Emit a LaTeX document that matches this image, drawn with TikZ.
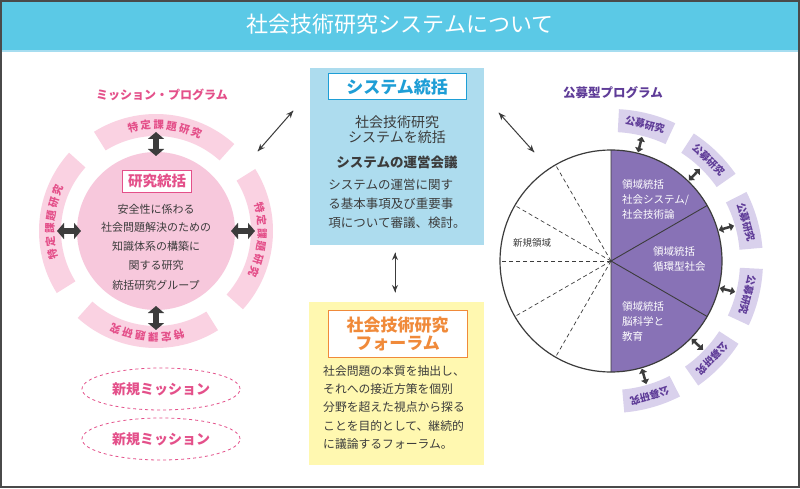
\documentclass[tikz,border=0pt]{standalone}
\usepackage{fontspec}
\setmainfont{Noto Sans CJK JP}
\usepackage[dvipsnames]{xcolor}
\usepackage{tkz-euclide}
\usetikzlibrary{arrows.meta,decorations.markings,shapes.geometric}

\definecolor{titleblue}{HTML}{5BC9E6}
\definecolor{titleline}{HTML}{A6DDF0}
\definecolor{framegray}{HTML}{4A4A4A}
\definecolor{boxblue}{HTML}{ADDCEE}
\definecolor{sysblue}{HTML}{1E9ED6}
\definecolor{boxyellow}{HTML}{FFF8B0}
\definecolor{forumorange}{HTML}{F08A3A}
\definecolor{circpink}{HTML}{F7C8DC}
\definecolor{ringpink}{HTML}{FAD2E2}
\definecolor{pinktext}{HTML}{E4508A}
\definecolor{pieviolet}{HTML}{8872B6}
\definecolor{tablav}{HTML}{D9D1EC}
\definecolor{tabviolet}{HTML}{5F3C98}
\definecolor{inkgray}{HTML}{3C3C3C}

\begin{document}
\begin{tikzpicture}[x=1pt,y=1pt]
\tikzset{
arr/.style={postaction=decorate,
decoration={markings,
mark=at position 0 with {\arrowreversed{#1}},
mark=at position 1 with {\arrow{#1}}
}},
fat/.style={line width=6pt,draw=inkgray,
{Triangle[width=16pt,length=7pt]}-{Triangle[width=16pt,length=7pt]}},
smallfat/.style={line width=2.5pt,draw=inkgray,
{Triangle[width=8pt,length=4.5pt]}-{Triangle[width=8pt,length=4.5pt]}},
ringtext/.style={text=pinktext,inner sep=0pt,font=\fontsize{10.5}{10.5}\selectfont\bfseries},
tabtext/.style={text=tabviolet,inner sep=0pt,font=\fontsize{10}{10}\selectfont\bfseries},
body/.style={text=inkgray,align=left,inner sep=0pt},
mission/.style={ellipse,draw=pinktext,dashed,line width=0.8pt,minimum width=158pt,
minimum height=42pt,text=pinktext,font=\fontsize{14}{14}\selectfont\bfseries},
piesec/.style={text=white,align=left,anchor=west,inner sep=0pt,font=\fontsize{10.5}{15}\selectfont}
}
\useasboundingbox (0,0) rectangle (800,488);
% frame and title
\fill[white] (0,0) rectangle (800,488);
\fill[titleblue] (0,438) rectangle (800,488);
\draw[titleline,line width=2pt] (0,437) -- (800,437);
\draw[framegray,line width=2pt] (1,1) rectangle (799,487);
\node[text=white,font=\fontsize{22}{22}\selectfont] (title) at (400,464) {社会技術研究システムについて};

\tkzDefPoints{156/257/L,611/227/R}
\tkzDefPoints{395/235/Va,395/196/Vb,293/377/La,258/337/Lb,499/375/Ra,534/336/Rb}

% mission program
\foreach \c in {85,175,265,355}{
\fill[ringpink] (L) ++(\c+37:117) arc[start angle=\c+37,end angle=\c-37,radius=117]
  -- ++(\c-37:-22) arc[start angle=\c-37,end angle=\c+37,radius=95] -- cycle;
\foreach \ch [count=\i] in {特,定,課,題,研,究}
  \path (L) ++(\c+24.5-7*\i:106) node[ringtext,rotate=\c-65.5-7*\i] (rt\c\i) {\ch};
}
\fill[circpink] (L) circle[radius=79];
\foreach \a in {90,180,270,0}{
\path (L) ++(\a:75) coordinate (fi\a) (L) ++(\a:99) coordinate (fo\a);
\draw[fat] (fi\a) -- (fo\a);
}
\node[draw=pinktext,fill=white,line width=0.8pt,minimum width=69pt,minimum height=22pt,
  text=pinktext,font=\fontsize{14.5}{14.5}\selectfont\bfseries] (kt) at (157,307) {研究統括};
\node[text=inkgray,align=center,font=\fontsize{11}{18.7}\selectfont] (kb) at (156,241)
  {安全性に係わる\\社会問題解決のための\\知識体系の構築に\\関する研究\\[1.5pt]統括研究グループ};
\node[text=pinktext,font=\fontsize{12}{12}\selectfont\bfseries] (mp) at (162,393) {ミッション・プログラム};
\node[mission] (nm1) at (161,99) {新規ミッション};
\node[mission] (nm2) at (161,49) {新規ミッション};

% system
\node[fill=boxblue,minimum width=174pt,minimum height=177pt] (sys) at (397,331.5) {};
\node[draw=sysblue,fill=white,line width=1pt,minimum width=138pt,minimum height=26pt,
  text=sysblue,font=\fontsize{17}{17}\selectfont\bfseries] (syst) at (397,401) {システム統括};
\node[text=inkgray,align=center,font=\fontsize{14}{15}\selectfont] (sys1) at (397,358.5)
  {社会技術研究\\システムを統括};
\node[text=inkgray,font=\fontsize{13.5}{13.5}\selectfont\bfseries] (sys2) at (397,326) {システムの運営会議};
\node[body,font=\fontsize{12.5}{19}\selectfont] (sys3) at (397,284)
  {システムの運営に関す\\る基本事項及び重要事\\項について審議、検討。};

% forum
\node[fill=boxyellow,minimum width=175pt,minimum height=163pt] (forum) at (396.5,104.5) {};
\node[draw=forumorange,fill=white,line width=1pt,minimum width=139pt,minimum height=47pt,
  align=center,text=forumorange,font=\fontsize{17}{18}\selectfont\bfseries] (fort) at (397.5,154.5)
  {社会技術研究\\フォーラム};
\node[body,anchor=west,font=\fontsize{11.8}{18.3}\selectfont] (forb) at (323,80.5)
  {社会問題の本質を抽出し、\\それへの接近方策を個別\\分野を超えた視点から探る\\ことを目的として、継続的\\に議論するフォーラム。};

% public program
\node[text=tabviolet,font=\fontsize{12.5}{12.5}\selectfont\bfseries] (kp) at (613,395) {公募型プログラム};
\fill[pieviolet] (R) -- ++(90:111) arc[start angle=90,end angle=-90,radius=111] -- cycle;
\foreach \a in {120,150,180,210,240}
  \draw[inkgray,dash pattern=on 4pt off 3pt,line width=0.7pt] (R) -- ++(\a:111);
\draw[inkgray,line width=0.9pt] (R) -- ++(30:111) (R) -- ++(-30:111) (R) ++(90:111) -- ++(0,-222);
\draw[inkgray,line width=1.2pt] (R) circle[radius=111];
\foreach \a [count=\k] in {76,46,16,-14,-44,-74}{
\fill[tablav] (R) ++(\a+11:152) arc[start angle=\a+11,end angle=\a-11,radius=152]
  -- ++(\a-11:-23) arc[start angle=\a-11,end angle=\a+11,radius=129] -- cycle;
\path (R) ++(\a:140.5) node[tabtext,rotate=\a-90] (tab\k) {公募研究};
\path (R) ++(\a:112) coordinate (si\k) (R) ++(\a:128) coordinate (so\k);
\draw[smallfat] (si\k) -- (so\k);
}
\node[piesec] (p1) at (622,288) {領域統括\\社会システム/\\社会技術論};
\node[piesec] (p2) at (653,229) {領域統括\\循環型社会};
\node[piesec] (p3) at (622,166) {領域統括\\脳科学と\\教育};
\node[text=inkgray,anchor=west,inner sep=0pt,font=\fontsize{9.5}{9.5}\selectfont] (nr) at (513,245) {新規領域};

% links
\tkzDrawSegment[color=inkgray,line width=1pt,arr={Stealth[length=7pt,width=6pt]}](Va,Vb)
\tkzDrawSegment[color=inkgray,line width=1pt,arr={Stealth[length=7pt,width=6pt]}](La,Lb)
\tkzDrawSegment[color=inkgray,line width=1pt,arr={Stealth[length=7pt,width=6pt]}](Ra,Rb)
\end{tikzpicture}
\end{document}
